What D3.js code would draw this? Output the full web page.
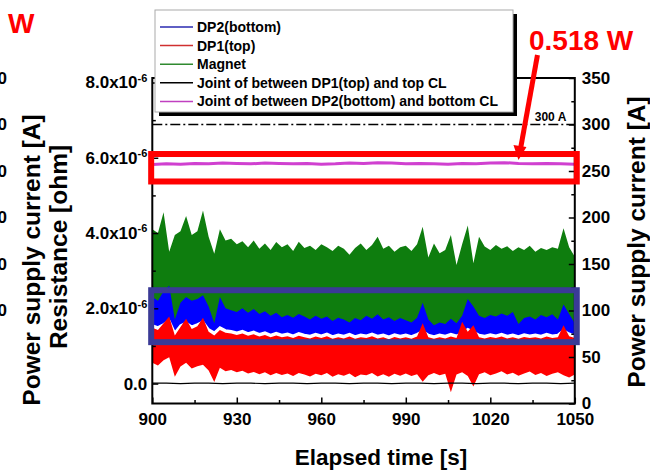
<!DOCTYPE html>
<html>
<head>
<meta charset="utf-8">
<script src="https://cdn.jsdelivr.net/npm/d3@7"></script>
<style>
  body { margin: 0; background: #fff; }
  text { font-family: "Liberation Sans", Arial, sans-serif; font-weight: bold; }
</style>
</head>
<body>
<svg id="chart" width="650" height="472"></svg>
<script>
// time grid for the noisy bands (s)
const times = d3.range(900, 1051, 2);

// resistance values, x1e-6 ohm
const magnetTop = [4.10, 4.00, 4.55, 3.50, 3.95, 4.05, 4.45, 3.95, 4.05, 4.60,
  3.90, 3.45, 4.10, 3.80, 3.85, 3.70, 3.78, 3.62, 3.80, 3.58,
  3.72, 3.55, 3.76, 3.62, 3.70, 3.52, 3.77, 3.60, 3.66, 3.55,
  3.70, 3.62, 3.52, 3.66, 3.58, 3.42, 3.60, 3.72, 3.55, 3.68,
  3.90, 3.58, 3.66, 3.50, 3.62, 3.66, 3.52, 3.70, 4.17, 3.35,
  3.72, 3.46, 3.55, 3.95, 3.15, 3.70, 4.20, 3.20, 3.90, 3.64,
  3.55, 3.68, 3.58, 3.65, 3.52, 3.62, 3.55, 3.66, 3.50, 3.60,
  3.55, 3.62, 3.58, 4.13, 3.62, 3.37];

const dp2Top = [2.30, 2.20, 2.45, 2.60, 1.70, 2.15, 2.30, 2.20, 2.25, 2.35,
  2.05, 1.60, 2.30, 2.00, 1.95, 1.90, 2.00, 1.88, 1.98, 1.85,
  1.92, 1.80, 1.88, 1.76, 1.82, 1.75, 1.85, 1.78, 1.70, 1.80,
  1.72, 1.78, 1.66, 1.75, 1.70, 1.62, 1.74, 1.68, 1.80, 1.72,
  1.84, 1.70, 1.76, 1.66, 1.74, 1.68, 1.62, 1.75, 2.15, 1.70,
  1.55, 1.62, 1.58, 1.72, 1.60, 1.80, 2.25, 2.05, 1.80, 1.74,
  1.82, 1.78, 1.86, 1.80, 1.90, 1.58, 1.74, 1.78, 1.70, 1.82,
  1.76, 1.84, 1.70, 2.10, 1.85, 1.60];

const dp2Bottom = [1.55, 1.50, 1.58, 1.68, 1.36, 1.55, 1.62, 1.52, 1.58, 1.65,
  1.45, 1.36, 1.50, 1.42, 1.40, 1.36, 1.40, 1.34, 1.38, 1.32,
  1.36, 1.30, 1.35, 1.30, 1.33, 1.28, 1.34, 1.30, 1.27, 1.32,
  1.28, 1.33, 1.26, 1.30, 1.27, 1.32, 1.26, 1.30, 1.28, 1.33,
  1.27, 1.30, 1.25, 1.31, 1.27, 1.30, 1.26, 1.32, 1.40, 1.30,
  1.26, 1.30, 1.27, 1.32, 1.28, 1.34, 1.45, 1.38, 1.30, 1.27,
  1.31, 1.28, 1.32, 1.27, 1.30, 1.26, 1.31, 1.28, 1.30, 1.27,
  1.32, 1.28, 1.30, 1.42, 1.33, 1.28];

const dp1Top = [1.48, 1.42, 1.60, 1.78, 1.28, 1.50, 1.72, 1.45, 1.52, 1.75,
  1.38, 1.28, 1.42, 1.35, 1.33, 1.29, 1.33, 1.27, 1.31, 1.25,
  1.29, 1.23, 1.28, 1.23, 1.26, 1.21, 1.27, 1.23, 1.20, 1.25,
  1.21, 1.26, 1.19, 1.23, 1.20, 1.25, 1.19, 1.23, 1.21, 1.26,
  1.20, 1.23, 1.18, 1.24, 1.20, 1.23, 1.19, 1.25, 1.60, 1.23,
  1.19, 1.23, 1.20, 1.25, 1.21, 1.64, 1.38, 1.55, 1.23, 1.20,
  1.24, 1.21, 1.25, 1.20, 1.23, 1.19, 1.24, 1.21, 1.23, 1.20,
  1.25, 1.21, 1.23, 1.55, 1.26, 1.21];

const dp1Bottom = [0.55, 0.48, 0.62, 0.70, 0.18, 0.45, 0.55, 0.40, 0.46, 0.50,
  0.35, 0.04, 0.42, 0.33, 0.36, 0.30, 0.34, 0.27, 0.31, 0.25,
  0.30, 0.22, 0.28, 0.23, 0.27, 0.20, 0.28, 0.24, 0.19, 0.26,
  0.22, 0.28, 0.18, 0.25, 0.21, 0.27, 0.17, 0.24, 0.22, 0.28,
  0.19, 0.25, 0.18, 0.26, 0.21, 0.27, 0.20, 0.25, 0.05, 0.22,
  0.28, 0.22, 0.26, -0.23, 0.24, 0.30, 0.20, -0.08, 0.25, 0.30,
  0.22, 0.27, 0.33, 0.24, 0.29, 0.21, 0.27, 0.32, 0.23, 0.28,
  0.20, 0.26, 0.30, 0.22, 0.16, 0.24];

// joint resistances, sampled every 5 s
const jointTimes = d3.range(900, 1051, 5);
const joint2 = [5.82, 5.84, 5.83, 5.85, 5.84, 5.86, 5.85, 5.84, 5.86, 5.85,
  5.84, 5.85, 5.83, 5.84, 5.86, 5.85, 5.87, 5.86, 5.84, 5.85,
  5.84, 5.83, 5.85, 5.84, 5.86, 5.87, 5.85, 5.84, 5.85, 5.84, 5.83];
const joint1 = [0.01, 0.01, 0.00, 0.01, 0.01, 0.00, 0.01, 0.01, 0.00, 0.01,
  0.01, 0.00, 0.01, 0.01, 0.00, 0.01, 0.01, 0.00, 0.01, 0.01,
  0.00, 0.01, 0.01, 0.00, 0.01, 0.01, 0.00, 0.01, 0.01, 0.00, 0.01];

const supplyCurrent = 300;

const xTicks = [900, 930, 960, 990, 1020, 1050];
const xMinor = [915, 945, 975, 1005, 1035];
const leftTicks = [0, 2, 4, 6, 8];
const leftMinor = [1, 3, 5, 7];
const rightTicks = [0, 50, 100, 150, 200, 250, 300, 350];
const rightMinor = [25, 75, 125, 175, 225, 275, 325];
const cutTicks = [350, 300, 250, 200, 150, 100];

const legendNames = ["DP2(bottom)", "DP1(top)", "Magnet",
  "Joint of between DP1(top) and top CL", "Joint of between DP2(bottom) and bottom CL"];
const legendColors = ["#2a2ab0", "#d03030", "#2f8a2f", "#000000", "#c040c0"];

const svg = d3.select("#chart");

const x = d3.scaleLinear().domain([900, 1050]).range([152.3, 574.8]);
const yL = d3.scaleLinear().domain([-0.53, 8.12]).range([403.5, 78]);
const yR = d3.scaleLinear().domain([0, 350]).range([403.5, 78]);

const [x0, x1] = x.range();
const [yB, yT] = yL.range();

const rows = times.map((t, i) => ({
  t, mag: magnetTop[i], b1: dp2Top[i], b0: dp2Bottom[i], r1: dp1Top[i], r0: dp1Bottom[i]
}));
const jrows = jointTimes.map((t, i) => ({ t, j1: joint1[i], j2: joint2[i] }));

svg.append("clipPath").attr("id", "plotClip")
  .append("rect").attr("x", x0).attr("y", yT).attr("width", x1 - x0).attr("height", yB - yT);

const plot = svg.append("g").attr("clip-path", "url(#plotClip)");

plot.append("path").datum(rows)
  .attr("fill", "#0e7d0e")
  .attr("d", d3.area().x(d => x(d.t)).y0(d => yL(d.b0)).y1(d => yL(d.mag)));

plot.append("path").datum(rows)
  .attr("fill", "#0000ff")
  .attr("d", d3.area().x(d => x(d.t)).y0(d => yL(d.b0)).y1(d => yL(d.b1)));

plot.append("path").datum(rows)
  .attr("fill", "none").attr("stroke", "#fff").attr("stroke-width", 2)
  .attr("d", d3.line().x(d => x(d.t)).y(d => yL(d.b0)));

plot.append("path").datum(rows)
  .attr("fill", "#ff0000")
  .attr("d", d3.area().x(d => x(d.t)).y0(d => yL(d.r0)).y1(d => yL(d.r1)));

plot.append("path").datum(jrows)
  .attr("fill", "none").attr("stroke", "#000").attr("stroke-width", 1.2)
  .attr("d", d3.line().x(d => x(d.t)).y(d => yL(d.j1)));

plot.append("path").datum(jrows)
  .attr("fill", "none").attr("stroke", "#d040d0").attr("stroke-width", 3)
  .attr("d", d3.line().x(d => x(d.t)).y(d => yL(d.j2)));

// 300 A supply current
plot.append("line")
  .attr("x1", x0).attr("x2", x1)
  .attr("y1", yR(supplyCurrent)).attr("y2", yR(supplyCurrent))
  .attr("stroke", "#000").attr("stroke-width", 1.5)
  .attr("stroke-dasharray", "10,3,2,3");

svg.append("text")
  .attr("x", x(1047)).attr("y", yR(supplyCurrent) - 4)
  .attr("text-anchor", "end").style("font-size", "12px")
  .text(supplyCurrent + " A");

// axes
function styleAxis(g) {
  g.attr("font-size", 17).attr("font-family", "Liberation Sans, Arial, sans-serif").attr("font-weight", "bold");
  g.select(".domain").remove();
  g.selectAll(".tick line").attr("stroke", "#000").attr("stroke-width", 1.5);
  g.selectAll(".tick text").attr("fill", "#000");
}

const gl = svg.append("g").attr("transform", `translate(${x0},0)`)
  .call(d3.axisLeft(yL).tickValues(leftTicks).tickSize(-6).tickPadding(5).tickFormat(""))
  .call(styleAxis);
gl.selectAll(".tick text").each(function(d) {
  const t = d3.select(this);
  if (d === 0) { t.text("0.0"); return; }
  t.append("tspan").text(d.toFixed(1) + "x10");
  t.append("tspan").attr("dy", "-0.6em").style("font-size", "11px").text("-6");
});
svg.append("g").attr("transform", `translate(${x0},0)`)
  .call(d3.axisLeft(yL).tickValues(leftMinor).tickSize(-3.5).tickFormat(""))
  .call(styleAxis);

svg.append("g").attr("transform", `translate(${x1},0)`)
  .call(d3.axisRight(yR).tickValues(rightTicks).tickSize(-6).tickPadding(7))
  .call(styleAxis);
svg.append("g").attr("transform", `translate(${x1},0)`)
  .call(d3.axisRight(yR).tickValues(rightMinor).tickSize(-3.5).tickFormat(""))
  .call(styleAxis);

svg.append("g").attr("transform", `translate(0,${yB})`)
  .call(d3.axisBottom(x).tickValues(xTicks).tickSize(-6).tickPadding(9).tickFormat(d3.format("d")))
  .call(styleAxis);
svg.append("g").attr("transform", `translate(0,${yB})`)
  .call(d3.axisBottom(x).tickValues(xMinor).tickSize(-3.5).tickFormat(""))
  .call(styleAxis);

// frame
svg.append("rect")
  .attr("x", x0).attr("y", yT).attr("width", x1 - x0).attr("height", yB - yT)
  .attr("fill", "none").attr("stroke", "#000").attr("stroke-width", 2);

// axis titles
svg.append("text")
  .attr("x", 381).attr("y", 465)
  .attr("text-anchor", "middle").style("font-size", "22.5px")
  .text("Elapsed time [s]");

svg.append("text")
  .attr("transform", "translate(636,242) rotate(-90)")
  .attr("text-anchor", "middle").attr("dy", "0.35em").style("font-size", "24.5px")
  .text("Power supply current [A]");

svg.append("text")
  .attr("transform", "translate(58,247) rotate(-90)")
  .attr("text-anchor", "middle").attr("dy", "0.35em").style("font-size", "24.5px")
  .text("Resistance [ohm]");

svg.append("text")
  .attr("transform", "translate(31,260) rotate(-90)")
  .attr("text-anchor", "middle").attr("dy", "0.35em").style("font-size", "24.5px")
  .text("Power supply current [A]");

// tick labels of the neighbouring panel, cut at the left edge
svg.selectAll(".cutTick").data(cutTicks).enter().append("text")
  .attr("class", "cutTick")
  .attr("x", 7).attr("y", d => yR(d)).attr("dy", "0.35em")
  .attr("text-anchor", "end").style("font-size", "17px")
  .text(d => d);

svg.append("text")
  .attr("x", 8).attr("y", 33)
  .attr("fill", "#ff0000").style("font-size", "28px")
  .text("W");

// highlight boxes
svg.append("rect")
  .attr("x", x(899.6)).attr("y", yL(6.1))
  .attr("width", x(1050.7) - x(899.6)).attr("height", yL(5.37) - yL(6.1))
  .attr("fill", "none").attr("stroke", "#ff0000").attr("stroke-width", 6);

svg.append("rect")
  .attr("x", x(899.6)).attr("y", yL(2.48))
  .attr("width", x(1050.7) - x(899.6)).attr("height", yL(1.10) - yL(2.48))
  .attr("fill", "none").attr("stroke", "#3a3a96").attr("stroke-width", 6);

// arrow to the magenta joint line
const tipX = x(1030), tipY = yL(5.94);
svg.append("line")
  .attr("x1", tipX + 19).attr("y1", tipY - 105)
  .attr("x2", tipX + 2.2).attr("y2", tipY - 12)
  .attr("stroke", "#ff0000").attr("stroke-width", 5);
svg.append("path")
  .attr("d", `M${tipX},${tipY} L${tipX - 5},${tipY - 15} L${tipX + 8},${tipY - 13} Z`)
  .attr("fill", "#ff0000");

svg.append("text")
  .attr("x", 529).attr("y", 50)
  .attr("fill", "#ff0000").style("font-size", "28px")
  .text("0.518 W");

// legend
const lg = svg.append("g");
lg.append("rect").attr("x", 159).attr("y", 14).attr("width", 358).attr("height", 102).attr("fill", "#000");
lg.append("rect").attr("x", 155).attr("y", 10).attr("width", 358).attr("height", 102)
  .attr("fill", "#fff").attr("stroke", "#aaa").attr("stroke-width", 1);

const items = lg.selectAll(".item").data(legendNames).enter().append("g")
  .attr("class", "item")
  .attr("transform", (d, i) => `translate(0,${27 + i * 18.6})`);
items.append("line")
  .attr("x1", 160).attr("x2", 193)
  .attr("stroke", (d, i) => legendColors[i]).attr("stroke-width", 1.5);
items.append("text")
  .attr("x", 197).attr("dy", "0.35em")
  .style("font-size", "14px")
  .text(d => d);
</script>
</body>
</html>
